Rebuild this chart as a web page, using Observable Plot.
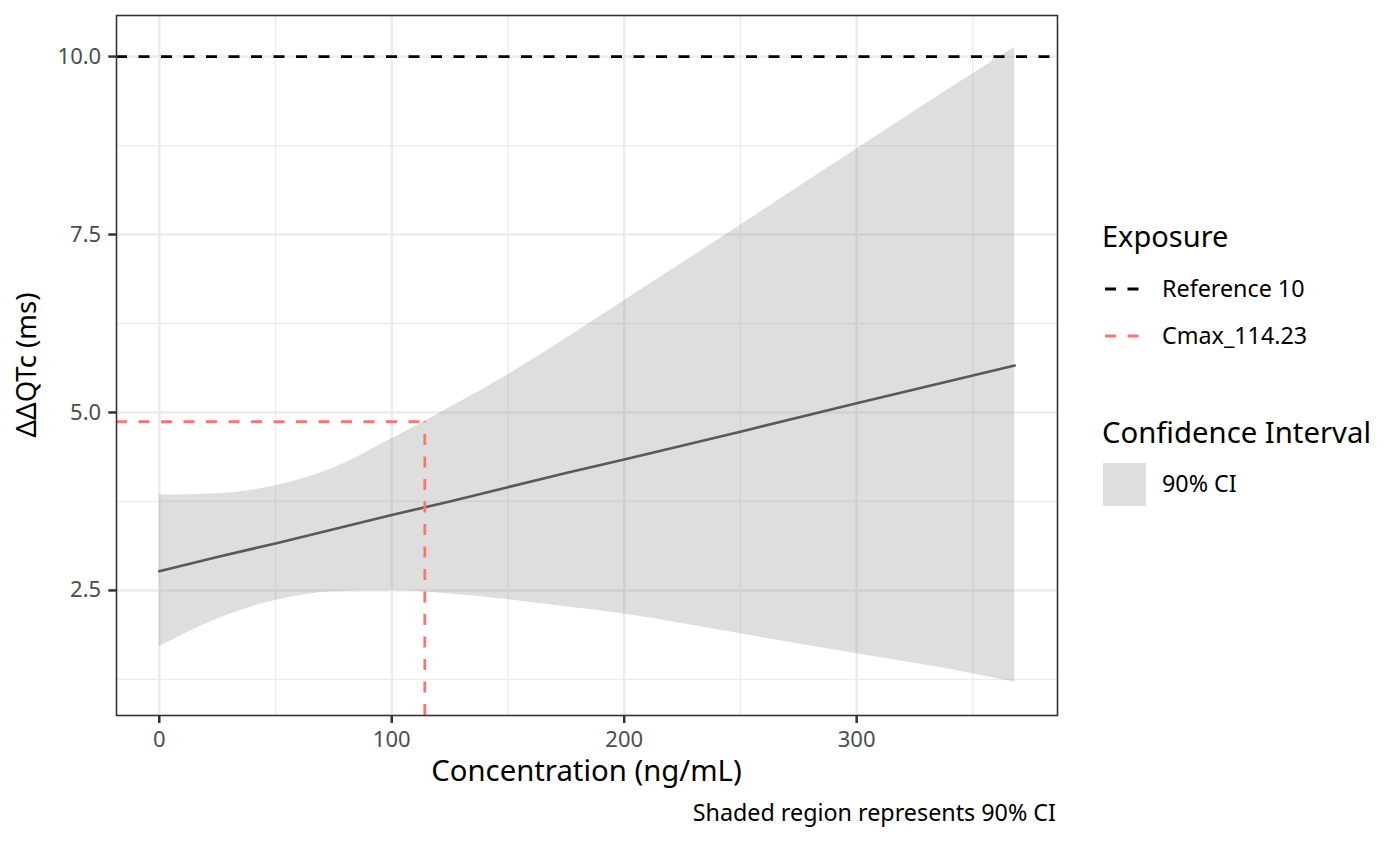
<!DOCTYPE html>
<html><head><meta charset="utf-8">
<script src="https://cdn.jsdelivr.net/npm/d3@7"></script>
<script src="https://cdn.jsdelivr.net/npm/@observablehq/plot@0.6"></script>
<style>
body{margin:0;background:#fff;font-family:"Noto Sans",sans-serif;}
#wrap{position:relative;width:1400px;height:866px;}
#overlay{position:absolute;left:0;top:0;pointer-events:none;}
</style></head><body><div id="wrap"></div>
<script>
// ---- data ----
const concentration = [0, 25, 50, 75, 100, 125, 150, 175, 200, 250, 300, 350, 368];
const fitted        = [2.77, 2.97, 3.16, 3.36, 3.56, 3.75, 3.95, 4.15, 4.34, 4.73, 5.13, 5.52, 5.66];
const lowerCI       = [1.71, 2.10, 2.36, 2.48, 2.50, 2.45, 2.37, 2.27, 2.17, 1.89, 1.61, 1.33, 1.21];
const upperCI       = [3.84, 3.86, 3.97, 4.22, 4.63, 5.07, 5.53, 6.04, 6.57, 7.63, 8.70, 9.76, 10.13];
const referenceValue = 10;
const cmaxValue = 114.23;
const cmaxUpper = 4.87;
const xTicks = [0, 100, 200, 300];
const yTicks = [2.5, 5, 7.5, 10];
const xMinor = [50, 150, 250, 350];
const yMinor = [1.25, 3.75, 6.25, 8.75];
const xDomain = [-18.4, 386.4];
const yDomain = [0.743, 10.577];
const exposureLabels = ["Reference 10", "Cmax_114.23"];
const exposureColors = ["#000000", "#F8766D"];
const ciLabel = "90% CI";

const rows = concentration.map((c, i) => ({c, fit: fitted[i], lo: lowerCI[i], hi: upperCI[i]}));
const dash = "11,11.5";
const font = '"Noto Sans", sans-serif';

const chart = Plot.plot({
  width: 1400, height: 866,
  marginLeft: 116, marginRight: 343, marginTop: 15, marginBottom: 151,
  style: {fontFamily: font, background: "#fff", overflow: "visible"},
  x: {domain: xDomain},
  y: {domain: yDomain},
  marks: [
    Plot.ruleX(xMinor, {stroke: "#EBEBEB", strokeWidth: 1.3}),
    Plot.ruleY(yMinor, {stroke: "#EBEBEB", strokeWidth: 1.3}),
    Plot.ruleX(xTicks, {stroke: "#EBEBEB", strokeWidth: 2.4}),
    Plot.ruleY(yTicks, {stroke: "#EBEBEB", strokeWidth: 2.4}),
    Plot.areaY(rows, {x: "c", y1: "lo", y2: "hi", fill: "#999999", fillOpacity: 0.32, curve: "monotone-x"}),
    Plot.lineY(rows, {x: "c", y: "fit", stroke: "#595959", strokeWidth: 2.7}),
    Plot.ruleY([referenceValue], {stroke: exposureColors[0], strokeWidth: 2.8, strokeDasharray: dash}),
    Plot.ruleY([{y: cmaxUpper, x1: xDomain[0], x2: cmaxValue}], {y: "y", x1: "x1", x2: "x2", stroke: exposureColors[1], strokeWidth: 2.8, strokeDasharray: dash}),
    Plot.ruleX([{x: cmaxValue, y1: yDomain[0], y2: cmaxUpper}], {x: "x", y1: "y1", y2: "y2", stroke: exposureColors[1], strokeWidth: 2.8, strokeDasharray: dash}),
    Plot.frame({stroke: "#333333", strokeWidth: 1.6}),
    Plot.axisX(xTicks, {tickSize: 8, tickPadding: 8, fontSize: 22, stroke: "#333333", fill: "#4D4D4D", strokeWidth: 2.5, label: null, tickFormat: d3.format("d")}),
    Plot.axisY(yTicks, {tickSize: 7.7, tickPadding: 7.6, fontSize: 22, stroke: "#333333", fill: "#4D4D4D", strokeWidth: 2.5, label: null, tickFormat: d3.format(".1f")})
  ]
});
const wrap = document.getElementById("wrap");
wrap.appendChild(chart);

// ---- titles, caption and legend ----
const ns = "http://www.w3.org/2000/svg";
const ov = document.createElementNS(ns, "svg");
ov.setAttribute("id", "overlay");
ov.setAttribute("width", 1400); ov.setAttribute("height", 866);
ov.setAttribute("font-family", font);
function txt(s, x, y, size, opts = {}) {
  const t = document.createElementNS(ns, "text");
  t.textContent = s;
  t.setAttribute("x", x); t.setAttribute("y", y);
  t.setAttribute("font-size", size);
  t.setAttribute("fill", opts.fill || "#000");
  if (opts.anchor) t.setAttribute("text-anchor", opts.anchor);
  if (opts.transform) t.setAttribute("transform", opts.transform);
  ov.appendChild(t);
}
function el(tag, attrs) {
  const e = document.createElementNS(ns, tag);
  for (const k in attrs) e.setAttribute(k, attrs[k]);
  ov.appendChild(e);
}
txt("Concentration (ng/mL)", 586.5, 781, 29.3, {anchor: "middle"});
txt("ΔΔQTc (ms)", 0, 0, 27.5, {anchor: "middle", transform: "translate(36,365) rotate(-90)"});
txt("Shaded region represents 90% CI", 1056, 821, 23.3, {anchor: "end"});
txt("Exposure", 1102, 247, 29);
const keyY = [289, 336], labY = [297, 344];
exposureLabels.forEach((l, i) => {
  el("line", {x1: 1105, x2: 1140, y1: keyY[i], y2: keyY[i], stroke: exposureColors[i], "stroke-width": 2.8, "stroke-dasharray": dash});
  txt(l, 1162, labY[i], 23.3);
});
txt("Confidence Interval", 1102, 443, 29.3);
el("rect", {x: 1103, y: 463, width: 43, height: 43, fill: "#999999", "fill-opacity": 0.32});
txt(ciLabel, 1162, 492, 23.3);
wrap.appendChild(ov);
</script></body></html>
